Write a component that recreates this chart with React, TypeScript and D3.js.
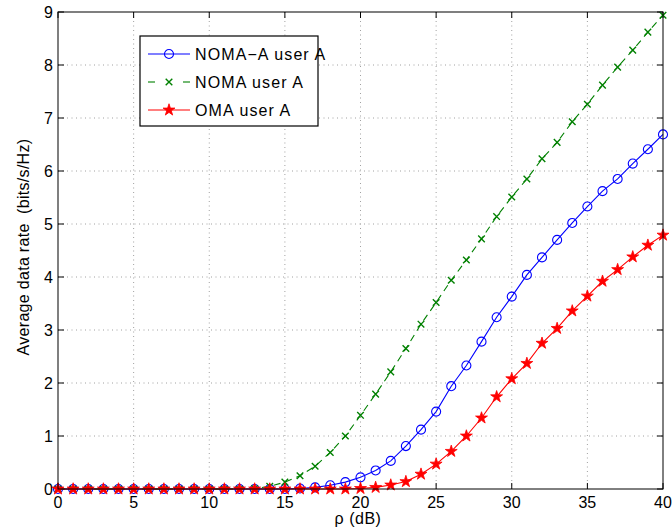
import React from "react";
import * as d3 from "d3";

const rho = [0,1,2,3,4,5,6,7,8,9,10,11,12,13,14,15,16,17,18,19,20,21,22,23,24,25,26,27,28,29,30,31,32,33,34,35,36,37,38,39,40];
const nomaA = [0,0,0,0,0,0,0,0,0,0,0,0,0,0,0,0,0.01,0.03,0.07,0.13,0.22,0.35,0.53,0.81,1.12,1.46,1.94,2.33,2.78,3.24,3.63,4.04,4.37,4.70,5.02,5.33,5.62,5.85,6.14,6.41,6.69];
const noma = [0,0,0,0,0,0,0,0,0,0,0,0,0,0.01,0.05,0.13,0.25,0.43,0.69,1.0,1.39,1.79,2.21,2.65,3.11,3.52,3.94,4.32,4.72,5.14,5.51,5.85,6.23,6.54,6.93,7.26,7.62,7.96,8.28,8.62,8.94];
const oma = [0,0,0,0,0,0,0,0,0,0,0,0,0,0,0,0,0,0,0,0,0.01,0.03,0.075,0.14,0.28,0.47,0.71,1.0,1.34,1.74,2.08,2.37,2.75,3.03,3.36,3.64,3.92,4.14,4.38,4.60,4.79];
const xTicks = [0,5,10,15,20,25,30,35,40];
const yTicks = [0,1,2,3,4,5,6,7,8,9];
const legendLabels = ["NOMA\u2212A user A", "NOMA user A", "OMA user A"];
const xLabel = "\u03c1 (dB)";
const yLabel = "Average data rate\u00a0\u00a0(bits/s/Hz)";

const W = 672, H = 531;
const L = 58, R = 663, T = 12, B = 489;
const FONT = "'Liberation Sans', Arial, sans-serif";
const FS = 16;
const BLUE = "#0000ff", GREEN = "#008000", RED = "#ff0000";

export default function App() {
  const x = d3.scaleLinear().domain([0, 40]).range([L, R]);
  const y = d3.scaleLinear().domain([0, 9]).range([B, T]);
  const line = (vals: number[]) =>
    d3.line<number>().x((_, i) => x(rho[i])).y((v) => y(v))(vals) || "";
  const circle = d3.symbol(d3.symbolCircle, 64)() || "";
  const times = d3.symbol(d3.symbolTimes, 30)() || "";
  const star = d3.symbol(d3.symbolStar, 44)() || "";
  const tick = 6;

  const markerBlue = (key: string, cx: number, cy: number) => (
    <path key={key} d={circle} transform={`translate(${cx},${cy})`} fill="none" stroke={BLUE} strokeWidth={1.1} />
  );
  const markerGreen = (key: string, cx: number, cy: number) => (
    <path key={key} d={times} transform={`translate(${cx},${cy})`} fill="none" stroke={GREEN} strokeWidth={1.4} />
  );
  const markerRed = (key: string, cx: number, cy: number) => (
    <path key={key} d={star} transform={`translate(${cx},${cy})`} fill={RED} stroke={RED} strokeWidth={0.8} />
  );

  const legX = 140, legY = 36, legW = 178, legH = 90;
  const rowY = [54, 82, 110];

  return (
    <div style={{ position: "absolute", left: 0, top: 0 }}>
      <svg width={W} height={H} style={{ display: "block", background: "#fff" }} fontFamily={FONT}>
        <rect x={0} y={0} width={W} height={H} fill="#fff" />
        {xTicks.slice(1, -1).map((t) => (
          <line key={"gx" + t} x1={x(t)} x2={x(t)} y1={T} y2={B} stroke="#a0a0a0" strokeWidth={1} strokeDasharray="1,3.5" />
        ))}
        {yTicks.slice(1, -1).map((t) => (
          <line key={"gy" + t} x1={L} x2={R} y1={y(t)} y2={y(t)} stroke="#a0a0a0" strokeWidth={1} strokeDasharray="1,3.5" />
        ))}
        {xTicks.map((t) => (
          <g key={"tx" + t}>
            <line x1={x(t)} x2={x(t)} y1={B} y2={B - tick} stroke="#000" />
            <line x1={x(t)} x2={x(t)} y1={T} y2={T + tick} stroke="#000" />
            <text x={x(t)} y={508} textAnchor="middle" fontSize={FS}>{t}</text>
          </g>
        ))}
        {yTicks.map((t) => (
          <g key={"ty" + t}>
            <line x1={L} x2={L + tick} y1={y(t)} y2={y(t)} stroke="#000" />
            <line x1={R} x2={R - tick} y1={y(t)} y2={y(t)} stroke="#000" />
            <text x={53} y={y(t) + 6} textAnchor="end" fontSize={FS}>{t}</text>
          </g>
        ))}
        <path d={line(nomaA)} fill="none" stroke={BLUE} strokeWidth={1.1} />
        {nomaA.map((v, i) => markerBlue("b" + i, x(rho[i]), y(v)))}
        <path d={line(noma)} fill="none" stroke={GREEN} strokeWidth={1.1} strokeDasharray="7,5" />
        {noma.map((v, i) => markerGreen("g" + i, x(rho[i]), y(v)))}
        <path d={line(oma)} fill="none" stroke={RED} strokeWidth={1.1} />
        {oma.map((v, i) => markerRed("r" + i, x(rho[i]), y(v)))}
        <rect x={L} y={T} width={R - L} height={B - T} fill="none" stroke="#000" strokeWidth={1} />
        <text x={358} y={524} textAnchor="middle" fontSize={FS} letterSpacing={0.5}>{xLabel}</text>
        <text transform={`translate(29,247) rotate(-90)`} textAnchor="middle" fontSize={FS} letterSpacing={0.3}>{yLabel}</text>
        <rect x={legX} y={legY} width={legW} height={legH} fill="#fff" stroke="#000" strokeWidth={1.2} />
        <line x1={148} x2={190} y1={rowY[0]} y2={rowY[0]} stroke={BLUE} strokeWidth={1.1} />
        {markerBlue("lb", 169, rowY[0])}
        <line x1={148} x2={155} y1={rowY[1]} y2={rowY[1]} stroke={GREEN} strokeWidth={1.1} />
        <line x1={183} x2={190} y1={rowY[1]} y2={rowY[1]} stroke={GREEN} strokeWidth={1.1} />
        {markerGreen("lg", 169, rowY[1])}
        <line x1={148} x2={190} y1={rowY[2]} y2={rowY[2]} stroke={RED} strokeWidth={1.1} />
        {markerRed("lr", 169, rowY[2])}
        {legendLabels.map((s, i) => (
          <text key={s} x={195} y={rowY[i] + 6} fontSize={FS} letterSpacing={1.1}>{s}</text>
        ))}
      </svg>
    </div>
  );
}
